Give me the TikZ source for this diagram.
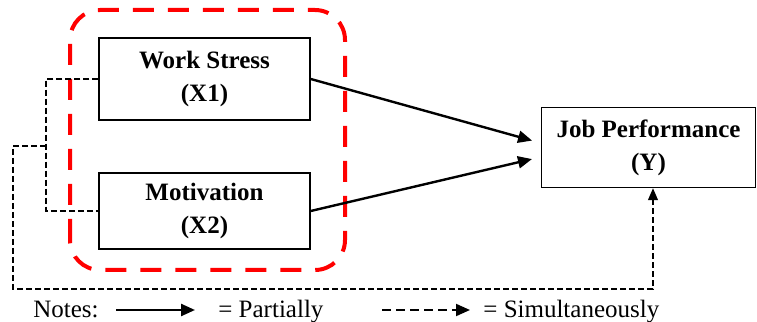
\documentclass[tikz,border=0pt]{standalone}
\usepackage{fontspec}
\setmainfont{Liberation Serif}
\usetikzlibrary{arrows.meta,positioning}

\begin{document}
\begin{tikzpicture}[x=5pt,y=5pt,font=\fontsize{12.5}{16.5}\selectfont,
 var/.style={draw,line width=0.75pt,rectangle,align=center,font=\fontsize{12.5}{16.5}\selectfont\bfseries,minimum width=105.5pt,minimum height=40pt,inner sep=0pt},
 rel/.style={line width=1.2pt,-{Triangle[length=7pt,width=6pt]}},
 link/.style={line width=0.65pt,dash pattern=on 3pt off 1.5pt},
 sim/.style={link,-{Triangle[length=6pt,width=5pt]}},
 grp/.style={draw=red,line width=2pt,dash pattern=on 10.5pt off 7pt,rounded corners=15pt},
 note/.style={anchor=base west,inner sep=0pt}]
\useasboundingbox (0,0) rectangle (75.7,32.2);
\node[var,minimum height=41pt] (ws) at (20.45,24.3) {Work Stress\\(X1)};
\node[var,minimum height=38pt] (mot) at (20.45,11.1) {Motivation\\(X2)};
\node[var,minimum width=107pt] (jp) at (64.85,17.45) {Job Performance\\(Y)};
\draw[grp] (7.0,5.2) rectangle (34.5,31.2);
\draw[rel,shorten >=4.5pt] (ws.east) -- ([yshift=2.25pt]jp.west);
\draw[rel,shorten >=4.5pt] (mot.east) -- ([yshift=-4.75pt]jp.west);
\coordinate (jn) at (4.6,17.6);
\draw[link] (ws.west) -| (jn) |- (mot.west);
\draw[sim] (jn) -- (1.3,17.6) |- (45,3.3) -| ([xshift=2.25pt]jp.south);
% legend
\node[note] (notes) at (3.3,0.4) {Notes:};
\coordinate (ra) at (11.6,1.2);
\coordinate (rb) at (19.5,1.2);
\draw[rel] (ra) -- (rb);
\node[note] (part) at (21.8,0.4) {= Partially};
\coordinate (sa) at (38.2,1.2);
\coordinate (sb) at (47.0,1.2);
\draw[sim,line width=1pt,dash pattern=on 4.5pt off 2.5pt,-{Triangle[length=7pt,width=6pt]}] (sa) -- (sb);
\node[note] (simul) at (48.3,0.4) {= Simultaneously};
\end{tikzpicture}
\end{document}
